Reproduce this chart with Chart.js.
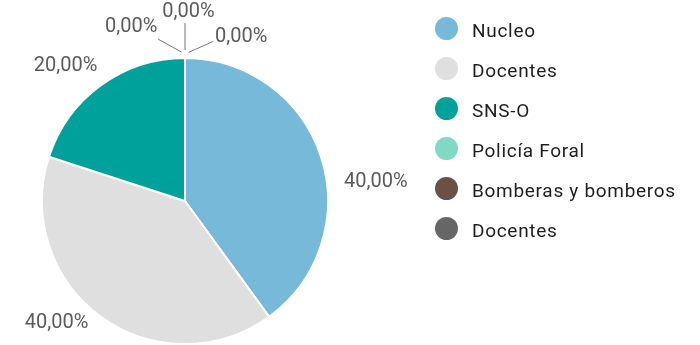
<!DOCTYPE html>
<html>
<head>
<meta charset="utf-8">
<script src="https://cdn.jsdelivr.net/npm/chart.js@4/dist/chart.umd.min.js"></script>
<style>
  html, body { margin: 0; padding: 0; background: #ffffff; }
  #wrap { width: 700px; height: 345px; }
</style>
</head>
<body>
<div id="wrap"><canvas id="pie" width="700" height="345"></canvas></div>
<script>
// Groups and their share of the total (percent)
const categories = ['Nucleo', 'Docentes', 'SNS-O', 'Policía Foral', 'Bomberas y bomberos', 'Docentes'];
const shares = [40, 40, 20, 0, 0, 0];
const sliceColors = ['#77b9d9', '#dfdfe0', '#00a19a', '#80d9c5', '#6a5143', '#666666'];

const fmtPct = v => v.toFixed(2).replace('.', ',') + '%';

// Outside value labels; empty slices get fanned leader lines
const valueLabels = {
  id: 'valueLabels',
  afterDatasetsDraw(chart, args, opts) {
    const ctx = chart.ctx;
    const meta = chart.getDatasetMeta(0);
    const values = chart.data.datasets[0].data;
    const size = opts.fontSize;
    ctx.save();
    ctx.font = size + 'px Roboto';
    ctx.fillStyle = opts.color;
    ctx.strokeStyle = opts.lineColor;
    ctx.lineWidth = 1;
    let zeroCount = 0;
    meta.data.forEach((arc, i) => {
      const p = arc.getProps(['x', 'y', 'startAngle', 'endAngle', 'outerRadius'], true);
      const mid = (p.startAngle + p.endAngle) / 2;
      const nudge = opts.nudge[i] || [0, 0];
      let tx, ty, align;
      if (values[i] > 0) {
        const r = p.outerRadius + opts.distance;
        tx = p.x + Math.cos(mid) * r;
        ty = p.y + Math.sin(mid) * r;
        align = Math.cos(mid) >= 0 ? 'left' : 'right';
      } else {
        const a = mid + opts.fan[zeroCount++] * Math.PI / 180;
        const dx = Math.cos(a), dy = Math.sin(a);
        const sx = p.x + Math.cos(mid) * (p.outerRadius + 4) + dx * 4;
        const sy = p.y + Math.sin(mid) * (p.outerRadius + 4) + dy * 4;
        const ex = sx + dx * opts.lineLength;
        const ey = sy + dy * opts.lineLength;
        ctx.beginPath();
        ctx.moveTo(sx, sy);
        ctx.lineTo(ex, ey);
        ctx.stroke();
        tx = ex + dx * 4;
        ty = ey + dy * 4;
        align = dx < -0.3 ? 'right' : (dx > 0.3 ? 'left' : 'center');
      }
      ctx.textAlign = align;
      ctx.textBaseline = 'alphabetic';
      ctx.fillText(fmtPct(values[i]), tx + nudge[0], ty + nudge[1] + size * 0.355);
    });
    ctx.restore();
  }
};

// Legend column with round markers
const sideLegend = {
  id: 'sideLegend',
  afterDraw(chart, args, opts) {
    const ctx = chart.ctx;
    const colors = chart.data.datasets[0].backgroundColor;
    ctx.save();
    chart.data.labels.forEach((label, i) => {
      const cy = opts.top + i * opts.step;
      ctx.beginPath();
      ctx.arc(opts.left, cy, opts.radius, 0, Math.PI * 2);
      ctx.fillStyle = colors[i];
      ctx.fill();
      ctx.font = opts.fontSize + 'px Roboto';
      ctx.letterSpacing = opts.letterSpacing;
      ctx.fillStyle = opts.color;
      ctx.textAlign = 'left';
      ctx.textBaseline = 'alphabetic';
      ctx.fillText(label, opts.textLeft, cy + 1.5 + opts.fontSize * 0.355);
    });
    ctx.restore();
  }
};

new Chart(document.getElementById('pie'), {
  type: 'pie',
  data: {
    labels: categories,
    datasets: [{
      data: shares,
      backgroundColor: sliceColors,
      borderColor: '#ffffff',
      borderWidth: 2,
      hoverOffset: 0
    }]
  },
  options: {
    responsive: false,
    devicePixelRatio: 1,
    animation: false,
    layout: { padding: { left: 41, right: 371, top: 57, bottom: 0 } },
    plugins: {
      legend: { display: false },
      tooltip: { enabled: false },
      valueLabels: {
        fontSize: 20,
        color: '#5b5b5b',
        lineColor: '#777777',
        distance: 18,
        fan: [-61, 0, 66],
        lineLength: 27,
        nudge: [[6, 29], [-2, -10], [7, -7], [3, -12], [3.5, -9], [-2, -5]]
      },
      sideLegend: {
        left: 446.5, top: 28.5, step: 40, radius: 11.5,
        textLeft: 472, fontSize: 19, letterSpacing: '0.7px', color: '#1e1e1e'
      }
    }
  },
  plugins: [valueLabels, sideLegend]
});
</script>
</body>
</html>
